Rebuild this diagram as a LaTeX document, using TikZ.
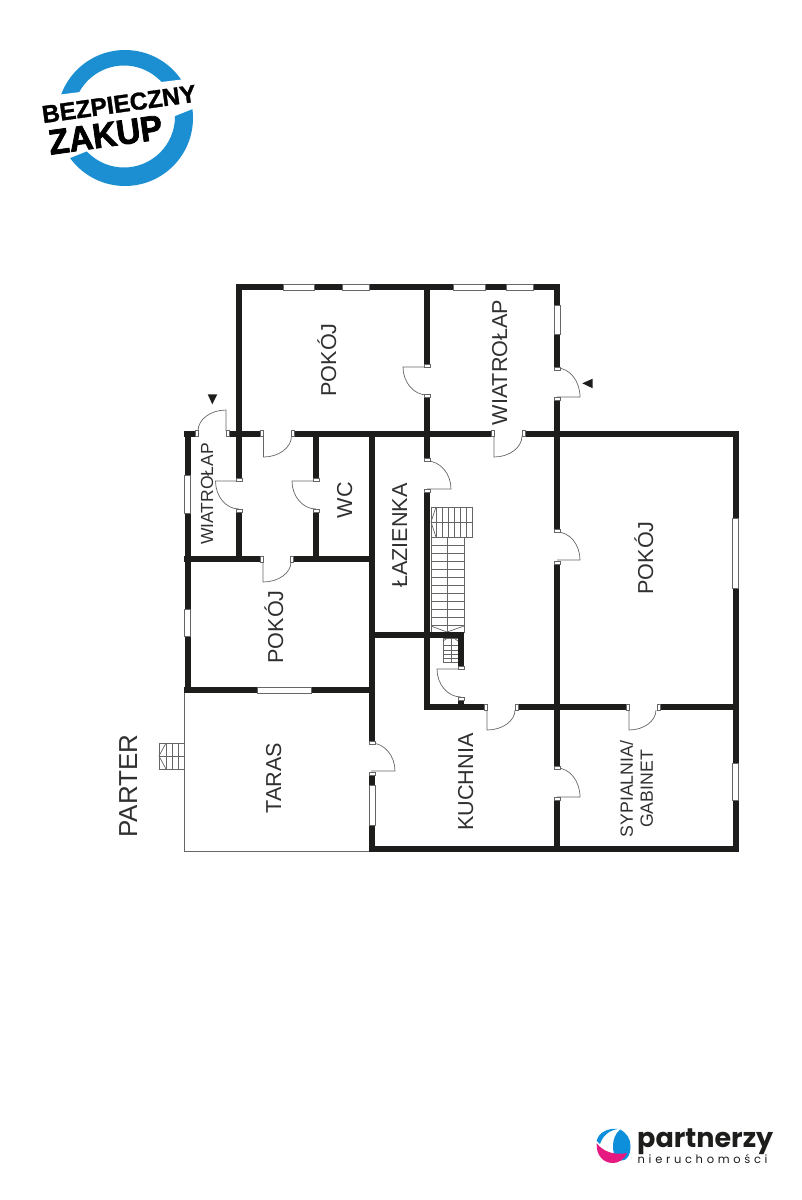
\documentclass[tikz,border=0pt]{standalone}
\usepackage{fontspec}
\setmainfont{Liberation Sans}
\newfontfamily\logofont[FakeBold=1.4]{Liberation Sans Bold}
\newfontfamily\logoheavy[FakeBold=2.2,FakeStretch=0.95]{Liberation Sans Bold}
\newfontfamily\partnerfont{Poppins}
\newfontfamily\partnerspaced[LetterSpace=32]{Poppins}
\usetikzlibrary{positioning}
\definecolor{wallblack}{HTML}{1D1D1B}
\definecolor{labelgray}{HTML}{303030}
\definecolor{edgegray}{HTML}{666666}
\definecolor{logoblue}{HTML}{1C8FD3}
\definecolor{logocyan}{HTML}{0E8FDC}
\definecolor{logopink}{HTML}{E5197F}
% door with a horizontal leaf: hinge x, hinge y, leaf length, swing
\newcommand{\hdoor}[4]{\draw[doorline] (#1,#2) -- ++(#3,0) .. controls +(0,{0.55*#4}) and +({0.55*#3},0) .. ({#1},{#2+#4});}
% door with a vertical leaf
\newcommand{\vdoor}[4]{\draw[doorline] (#1,#2) -- ++(0,#4) .. controls +({0.55*#3},0) and +(0,{0.55*#4}) .. ({#1+#3},{#2});}

\begin{document}
\begin{tikzpicture}[
	x=1pt,y=-1pt,
	wall/.style={line width=6pt,draw=wallblack},
	windowbox/.style={draw=edgegray,line width=0.5pt,fill=white},
	jamb/.style={draw=edgegray,line width=0.5pt,fill=white},
	doorline/.style={draw=edgegray,line width=0.7pt},
	stairline/.style={draw=edgegray,line width=0.7pt},
	outline/.style={draw=edgegray,line width=0.8pt},
	marker/.style={fill=wallblack},
	roomlabel/.style={rotate=90,anchor=base,inner sep=0pt,text=labelgray,font=\fontsize{21.6}{26}\selectfont},
	smalllabel/.style={roomlabel,font=\fontsize{17.5}{20}\selectfont}]
\useasboundingbox (0,0) rectangle (801,1200);

% terrace and its steps
\draw[outline] (184,693) -- (184,851.5) -- (369,851.5);
\draw[stairline] (159,743) rectangle (184,769);
\draw[stairline] (159,756) -- (184,756);
\foreach \x in {166,172,178} \draw[stairline] (\x,743) -- (\x,769);
\draw[stairline] (166,743) -- (159,756) -- (166,769);

% stairs
\draw[stairline] (431,507) rectangle (472,537);
\draw[stairline] (431,522) -- (472,522);
\foreach \x in {436,442,448,454,460,466} \draw[stairline] (\x,507) -- (\x,537);
\draw[stairline] (436,507) -- (431,522) -- (436,537);
\draw[stairline] (431,537) rectangle (464,632);
\draw[stairline] (447,537) -- (447,632);
\foreach \y in {545,553,561,569,577,585,593,601,609,617,625} \draw[stairline] (431,\y) -- (464,\y);
\draw[stairline] (431,626) -- (447,632) -- (464,626);
\draw[stairline] (443,638) rectangle (458,662);
\draw[stairline] (451,636) -- (451,662);
\foreach \y in {645,650,654,658} \draw[stairline] (443,\y) -- (458,\y);
\draw[stairline] (443,641) -- (451,636) -- (458,641);

% walls
\draw[wall] (236,287) -- (559.5,287);
\draw[wall] (239,284) -- (239,480) (239,509) -- (239,562);
\draw[wall] (427,287) -- (427,365) (427,396) -- (427,460) (427,490) -- (427,710);
\draw[wall] (557,284) -- (557,368) (557,398) -- (557,530) (557,562) -- (557,767) (557,798) -- (557,852);
\draw[wall] (184,433.5) -- (196,433.5) (226,433.5) -- (262,433.5) (292,433.5) -- (492,433.5) (523,433.5) -- (738,433.5);
\draw[wall] (735.5,431) -- (735.5,852);
\draw[wall] (187.5,431) -- (187.5,693);
\draw[wall] (316,434) -- (316,480) (316,509) -- (316,559);
\draw[wall] (372,434) -- (372,742) (372,773) -- (372,852);
\draw[wall] (184,559) -- (261,559) (292,559) -- (375,559);
\draw[wall] (184,690) -- (375,690);
\draw[wall] (369,635) -- (464,635);
\draw[wall] (461,632) -- (461,668) (461,697) -- (461,707);
\draw[wall] (424,707) -- (486,707) (516,707) -- (628,707) (658,707) -- (738,707);
\draw[wall] (369,849) -- (738,849);

% windows
\draw[windowbox] (283,284) rectangle (314,290);
\draw[windowbox] (342,284) rectangle (369,290);
\draw[windowbox] (453,284) rectangle (485,290);
\draw[windowbox] (506,284) rectangle (533,290);
\draw[windowbox] (554,305) rectangle (560,334);
\draw[windowbox] (732.7,518) rectangle (738.3,588);
\draw[windowbox] (732.7,763) rectangle (738.3,800);
\draw[windowbox] (184.5,475) rectangle (190.5,513);
\draw[windowbox] (184.5,609) rectangle (190.5,636);
\draw[windowbox] (257,687) rectangle (311,693);
\draw[windowbox] (369,785) rectangle (375,825);

% doors
\vdoor{226}{431}{-28}{-21}
\vdoor{263.5}{436}{28}{21}
\vdoor{494}{436}{28}{21}
\vdoor{263}{562}{28}{20}
\vdoor{487}{710}{28}{20}
\vdoor{629}{710}{27}{20}
\hdoor{239}{481}{-23.5}{28}
\hdoor{316}{481}{-24}{28}
\hdoor{427}{367}{-24}{28}
\hdoor{461}{669}{-24}{28}
\hdoor{557}{397}{23}{-29}
\hdoor{427}{489}{24}{-28}
\hdoor{557}{560}{23}{-28}
\hdoor{557}{797}{23}{-29}
\hdoor{371}{771}{24}{-28}
\foreach \x/\y in {196.5/433.5,227.5/433.5,261.5/433.5,292.5/433.5,492.5/433.5,523.5/433.5,261.5/559,291.5/559,486/707,517/707,628/707,658.5/707}
	\draw[jamb] (\x-1.6,\y-3) rectangle (\x+1.6,\y+3);
\foreach \x/\y in {239/480,239/510.5,316/480,316/510.5,427/365.5,427/396,557/368.5,557/399,427/460,427/490.5,557/531,557/563,557/767.5,557/798.5,372/742.5,372/773.5,461/668,461/698.5}
	\draw[jamb] (\x-3,\y-1.6) rectangle (\x+3,\y+1.6);

% entrance markers
\fill[marker] (207.7,394.3) -- (217.3,394.3) -- (212.3,404.3) -- cycle;
\fill[marker] (592.7,378.7) -- (592.7,388.3) -- (582.3,383.3) -- cycle;

% room names
\node[roomlabel] (pokojtop) at (336,360) {POKÓJ};
\node[roomlabel] (wiatrolaptop) at (507,362.5) {WIATROŁAP};
\node[smalllabel] (wiatrolapleft) at (213,494) {WIATROŁAP};
\node[roomlabel] (wc) at (352,500) {WC};
\node[roomlabel] (lazienka) at (407,535.5) {ŁAZIENKA};
\node[roomlabel] (pokojright) at (653,558) {POKÓJ};
\node[roomlabel] (pokojleft) at (283,627) {POKÓJ};
\node[roomlabel] (taras) at (281,778) {TARAS};
\node[roomlabel] (kuchnia) at (473,782) {KUCHNIA};
\node[roomlabel,font=\fontsize{26}{30}\selectfont] (parter) at (137,786) {PARTER};
\node[rotate=90,align=center,inner sep=0pt,text=labelgray,font=\fontsize{17.7}{20}\selectfont] (sypialnia) at (636.5,789) {SYPIALNIA/\\GABINET};

% badge
\fill[logoblue,even odd rule] (125,118) circle[radius=68] (124,116.5) circle[radius=51];
\fill[white] (40,97) -- (210,76) -- (210,102) -- (40,170) -- cycle;
\node[rotate=8,inner sep=0pt,font=\logofont\fontsize{24.5}{28}\selectfont] (bezpieczny) at (119,104) {BEZPIECZNY};
\node[rotate=8,inner sep=0pt,font=\logoheavy\fontsize{35}{38}\selectfont] (zakup) at (105.5,135) {ZAKUP};

% agency logo
\fill[logocyan] (620,1129.5) .. controls (615,1134) and (613,1140) .. (613,1146) .. controls (613,1156) and (617,1160.5) .. (621.7,1160.5) .. controls (626.5,1160.5) and (630.5,1156) .. (630.5,1146) .. controls (630.5,1139) and (627,1133) .. (620,1129.5) -- cycle;
\fill[logocyan] (596.7,1141) .. controls (598,1133) and (608,1127.5) .. (618,1129) .. controls (610,1130) and (603,1135) .. (600,1144) -- cycle;
\fill[logopink] (596.7,1143.3) .. controls (602,1150) and (612,1156) .. (627,1153) .. controls (624,1160) and (618,1163) .. (613,1163) .. controls (603,1163) and (596,1155) .. (596.7,1143.3) -- cycle;
\node[anchor=base west,inner sep=0pt,font=\partnerfont\bfseries\fontsize{27}{30}\selectfont,text=wallblack] (partnerzy) at (637,1147) {partnerzy};
\node[anchor=base west,inner sep=0pt,font=\partnerspaced\fontsize{11.5}{13}\selectfont,text=wallblack] (nieruchomosci) at (637.5,1163) {nieruchomości};
\end{tikzpicture}
\end{document}
